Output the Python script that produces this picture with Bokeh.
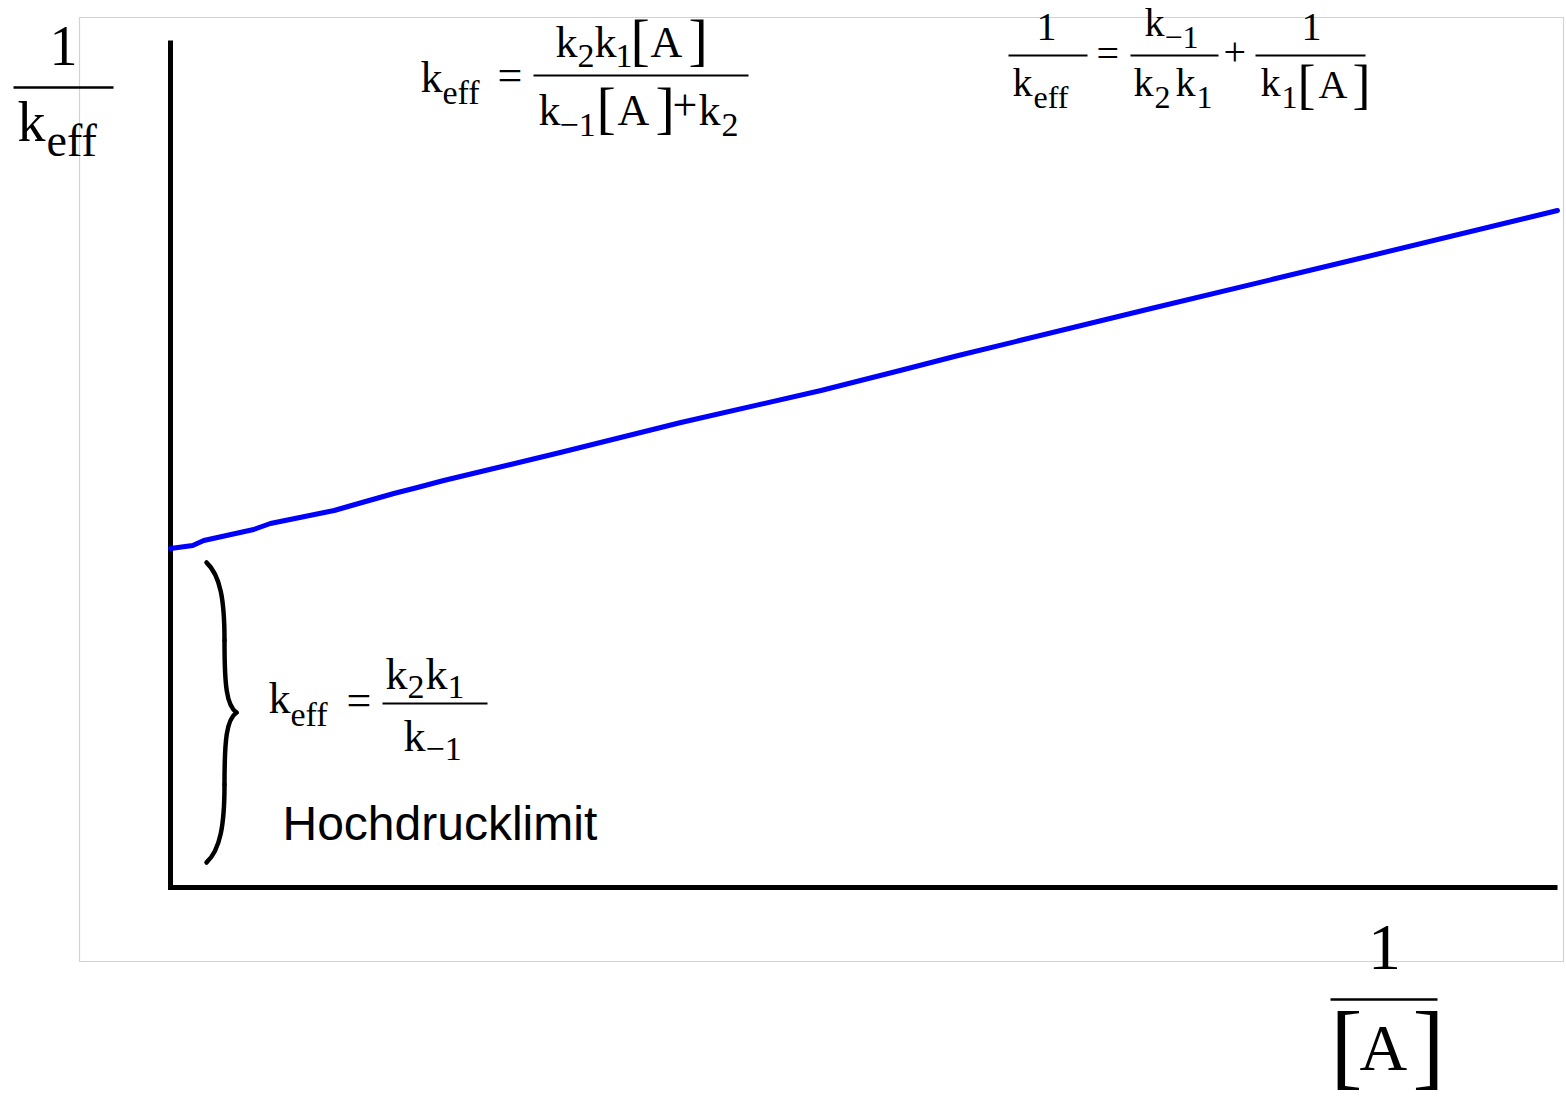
from bokeh.plotting import figure
from bokeh.models import Range1d, ColumnDataSource
from bokeh.core.properties import value
from bokeh.embed import file_html
from bokeh.resources import INLINE

# 1/[A] (arbitrary units) and the measured 1/k_eff along it
inv_A = [0.0, 0.16, 0.24, 0.60, 0.72, 1.18, 1.28, 1.61, 1.78, 1.97,
         2.33, 2.81, 3.68, 4.69, 5.26, 5.68, 7.07, 8.57, 10.0]
inv_keff = [3.39, 3.42, 3.47, 3.58, 3.64, 3.77, 3.81, 3.94, 4.00, 4.07,
            4.19, 4.35, 4.65, 4.97, 5.17, 5.32, 5.79, 6.29, 6.77]

W, H = 1566, 1103
ORIGIN = (170, 887)   # canvas position where the two axes meet
XSCALE = 138.7        # canvas px per unit of 1/[A]
YSCALE = 100.0        # canvas px per unit of 1/k_eff
LIFT = 0.38           # baseline correction, as a fraction of the font size


def cx(px):
    return (px - ORIGIN[0]) / XSCALE


def cy(py):
    return (ORIGIN[1] - py) / YSCALE


p = figure(width=W, height=H, output_backend="svg", toolbar_location=None,
           x_range=Range1d(cx(0), cx(W)), y_range=Range1d(cy(H), cy(0)),
           x_axis_location=None, y_axis_location=None, min_border=0)
p.grid.visible = False
p.outline_line_color = None
p.background_fill_color = "white"
p.border_fill_color = "white"

# light frame around the diagram
p.quad(left=cx(79), right=cx(1563), top=cy(17), bottom=cy(961),
       fill_color=None, line_color="#d2d2d2", line_width=1.2)

# axes
p.line(x=[0, 0, max(inv_A)], y=[cy(40), 0, 0], line_color="black",
       line_width=5, line_join="miter")

# Lineweaver-Burk type line
p.line(x=inv_A, y=inv_keff, line_color="#0000ff", line_width=5,
       line_join="round", line_cap="round")

# curly brace marking the intercept
brace = [
    ((206, 562), (220, 575), (224, 600), (224, 640)),
    ((224, 640), (224, 685), (226, 705), (236, 712)),
    ((236, 712), (226, 719), (224, 739), (224, 784)),
    ((224, 784), (224, 824), (220, 849), (206, 862)),
]
p.bezier(x0=[cx(b[0][0]) for b in brace], y0=[cy(b[0][1]) for b in brace],
         cx0=[cx(b[1][0]) for b in brace], cy0=[cy(b[1][1]) for b in brace],
         cx1=[cx(b[2][0]) for b in brace], cy1=[cy(b[2][1]) for b in brace],
         x1=[cx(b[3][0]) for b in brace], y1=[cy(b[3][1]) for b in brace],
         line_color="black", line_width=4.5, line_cap="round")

# fraction bars
bars = [
    (13, 113, 87, 2.5),      # 1 / k_eff (axis)
    (1330, 1437, 999, 2.5),  # 1 / [A] (axis)
    (533, 748, 75, 2),       # k2k1[A] / (k-1[A]+k2)
    (1008, 1087, 55, 2),     # 1 / k_eff
    (1130, 1218, 55, 2),     # k-1 / k2k1
    (1255, 1365, 55, 2),     # 1 / k1[A]
    (382, 487, 703, 2),      # k2k1 / k-1
]
p.segment(x0=[cx(b[0]) for b in bars], x1=[cx(b[1]) for b in bars],
          y0=[cy(b[2]) for b in bars], y1=[cy(b[2]) for b in bars],
          line_color="black", line_width=[b[3] for b in bars])

M, S, B = 44, 34, 58      # main, subscript and bracket sizes in the formulas
M2, S2, B2 = 40, 32, 54   # slightly smaller set for the reciprocal form
pieces = [
    # axis label 1 / k_eff
    ("1", 63, 67, 56, "center"),
    ("k", 17, 143, 56, "left"),
    ("eff", 46, 157, 46, "left"),
    # axis label 1 / [A]
    ("1", 1384, 972, 66, "center"),
    ("[", 1330, 1080, 96, "left"),
    ("A", 1359, 1072, 66, "left"),
    ("]", 1412, 1080, 96, "left"),
    # k_eff = k2 k1 [A] / (k-1 [A] + k2)
    ("k", 420, 94, M, "left"),
    ("eff", 442, 105, S, "left"),
    ("=", 497, 92, M, "left"),
    ("k", 555, 59, M, "left"),
    ("2", 577, 68, S, "left"),
    ("k", 594, 59, M, "left"),
    ("1", 615, 68, S, "left"),
    ("[", 630, 61, B, "left"),
    ("A", 650, 59, M, "left"),
    ("]", 688, 61, B, "left"),
    ("k", 538, 127, M, "left"),
    ("\u22121", 559, 137, S, "left"),
    ("[", 596, 129, B, "left"),
    ("A", 617, 127, M, "left"),
    ("]", 655, 129, B, "left"),
    ("+", 672, 122, M, "left"),
    ("k", 698, 127, M, "left"),
    ("2", 721, 137, S, "left"),
    # 1/k_eff = k-1/(k2 k1) + 1/(k1 [A])
    ("1", 1046, 42, M2, "center"),
    ("k", 1012, 97, M2, "left"),
    ("eff", 1033, 109, S2, "left"),
    ("=", 1096, 68, M2, "left"),
    ("k", 1144, 37, M2, "left"),
    ("\u22121", 1164, 49, S2, "left"),
    ("k", 1133, 97, M2, "left"),
    ("2", 1154, 109, S2, "left"),
    ("k", 1175, 97, M2, "left"),
    ("1", 1196, 109, S2, "left"),
    ("+", 1223, 67, M2, "left"),
    ("1", 1311, 42, M2, "center"),
    ("k", 1260, 97, M2, "left"),
    ("1", 1281, 109, S2, "left"),
    ("[", 1297, 105, B2, "left"),
    ("A", 1318, 99, M2, "left"),
    ("]", 1352, 105, B2, "left"),
    # k_eff = k2 k1 / k-1
    ("k", 268, 715, M, "left"),
    ("eff", 290, 727, S, "left"),
    ("=", 346, 717, M, "left"),
    ("k", 385, 691, M, "left"),
    ("2", 407, 699, S, "left"),
    ("k", 425, 691, M, "left"),
    ("1", 447, 699, S, "left"),
    ("k", 403, 753, M, "left"),
    ("\u22121", 425, 761, S, "left"),
]
src = ColumnDataSource(dict(
    x=[cx(t[1]) for t in pieces],
    y=[cy(t[2] - LIFT * t[3]) for t in pieces],
    text=[t[0] for t in pieces],
    size=[f"{t[3]}px" for t in pieces],
    align=[t[4] for t in pieces],
))
p.text(x="x", y="y", text="text", source=src, text_font=value("Liberation Serif"),
       text_font_size="size", text_align="align", text_baseline="alphabetic",
       text_color="black")

p.text(x=[cx(282)], y=[cy(841 - LIFT * 48)], text=["Hochdrucklimit"],
       text_font=value("Liberation Sans"), text_font_size="48px",
       text_align="left", text_baseline="alphabetic", text_color="black")

open("out.html", "w").write(file_html(p, INLINE))
